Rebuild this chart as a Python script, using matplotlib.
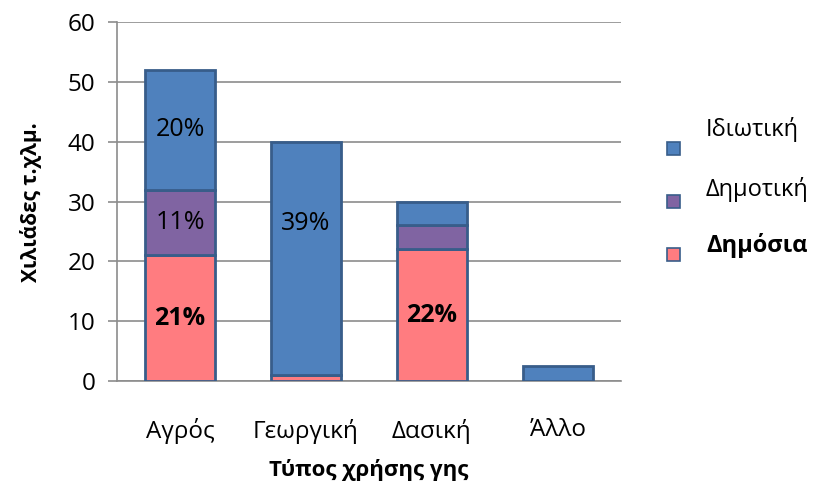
import matplotlib
matplotlib.use("Agg")
import matplotlib.pyplot as plt
from matplotlib.patches import Rectangle
import numpy as np

plt.rcParams['font.family'] = ['Open Sans', 'DejaVu Sans']

categories = ["Αγρός", "Γεωργική", "Δασική", "Άλλο"]
series_names = ["Δημόσια", "Δημοτική", "Ιδιωτική"]
public = [21, 1, 22, 0]
municipal = [11, 0, 4, 0]
private = [20, 39, 4, 2.5]
public_labels = ["21%", "", "22%", ""]
municipal_labels = ["11%", "", "", ""]
private_labels = ["20%", "39%", "", ""]
yticks = [0, 10, 20, 30, 40, 50, 60]

colors = {"Δημόσια": "#FF7C80", "Δημοτική": "#8064A2", "Ιδιωτική": "#4F81BD"}
edge = "#385D8A"

fig = plt.figure(figsize=(8.15, 4.92), dpi=100)
ax = fig.add_axes([117/815, 1-381/492, (621-117)/815, (381-22)/492])

x = np.arange(len(categories))
w = 0.56
bottom = np.zeros(len(categories))
series = [(public, public_labels, "Δημόσια", "bold"),
          (municipal, municipal_labels, "Δημοτική", "normal"),
          (private, private_labels, "Ιδιωτική", "normal")]
for vals, labs, name, wt in series:
    vals = np.array(vals, dtype=float)
    ax.bar(x, vals, w, bottom=bottom, color=colors[name], edgecolor=edge,
           linewidth=2, zorder=3, label=name)
    for xi, b, v, lab in zip(x, bottom, vals, labs):
        if lab:
            yc = b + v/2
            if v > 30:  # tall segment: label sits a bit higher, as in the original
                yc = b + v*0.65
            ax.text(xi, yc, lab, ha='center', va='center', fontsize=18,
                    fontweight=wt, color='black', zorder=4)
    bottom = bottom + vals

ax.set_xlim(-0.5, 3.5)
ax.set_ylim(0, 60)
ax.set_yticks(yticks)
ax.tick_params(axis='y', labelsize=17.5, length=6.5, width=1.2, color='#8c8c8c', pad=9)
ax.tick_params(axis='x', labelsize=17.5, length=0, pad=27)
ax.set_xticks(x)
ax.set_xticklabels(categories)
ax.yaxis.grid(True, color='#8c8c8c', linewidth=1.2, zorder=0)
ax.set_axisbelow(True)
for s in ['top', 'right']:
    ax.spines[s].set_visible(False)
for s in ['left', 'bottom']:
    ax.spines[s].set_color('#8c8c8c')
    ax.spines[s].set_linewidth(1.2)

ax.set_ylabel("Χιλιάδες τ.χλμ.", fontsize=15, fontweight='bold', va='center')
ax.yaxis.set_label_coords((31-117)/504, (381-202)/359)
ax.set_xlabel("Τύπος χρήσης γης", fontsize=16, fontweight='bold', va='center')
ax.xaxis.set_label_coords(0.5, (381-470)/359)

# legend (Excel style: text sits slightly above the marker)
order = ["Ιδιωτική", "Δημοτική", "Δημόσια"]
marker_y = [148, 201, 254]
text_y = [130, 190, 246]
for name, my, ty in zip(order, marker_y, text_y):
    fig.add_artist(Rectangle((667/815, 1-(my+6.5)/492), 13/815, 13/492,
                             transform=fig.transFigure, facecolor=colors[name],
                             edgecolor=edge, linewidth=1.2))
    fig.text(706/815, 1-ty/492, name, fontsize=17, va='center', ha='left',
             fontweight='bold' if name == "Δημόσια" else 'normal')

fig.savefig("out.png", dpi=100)
